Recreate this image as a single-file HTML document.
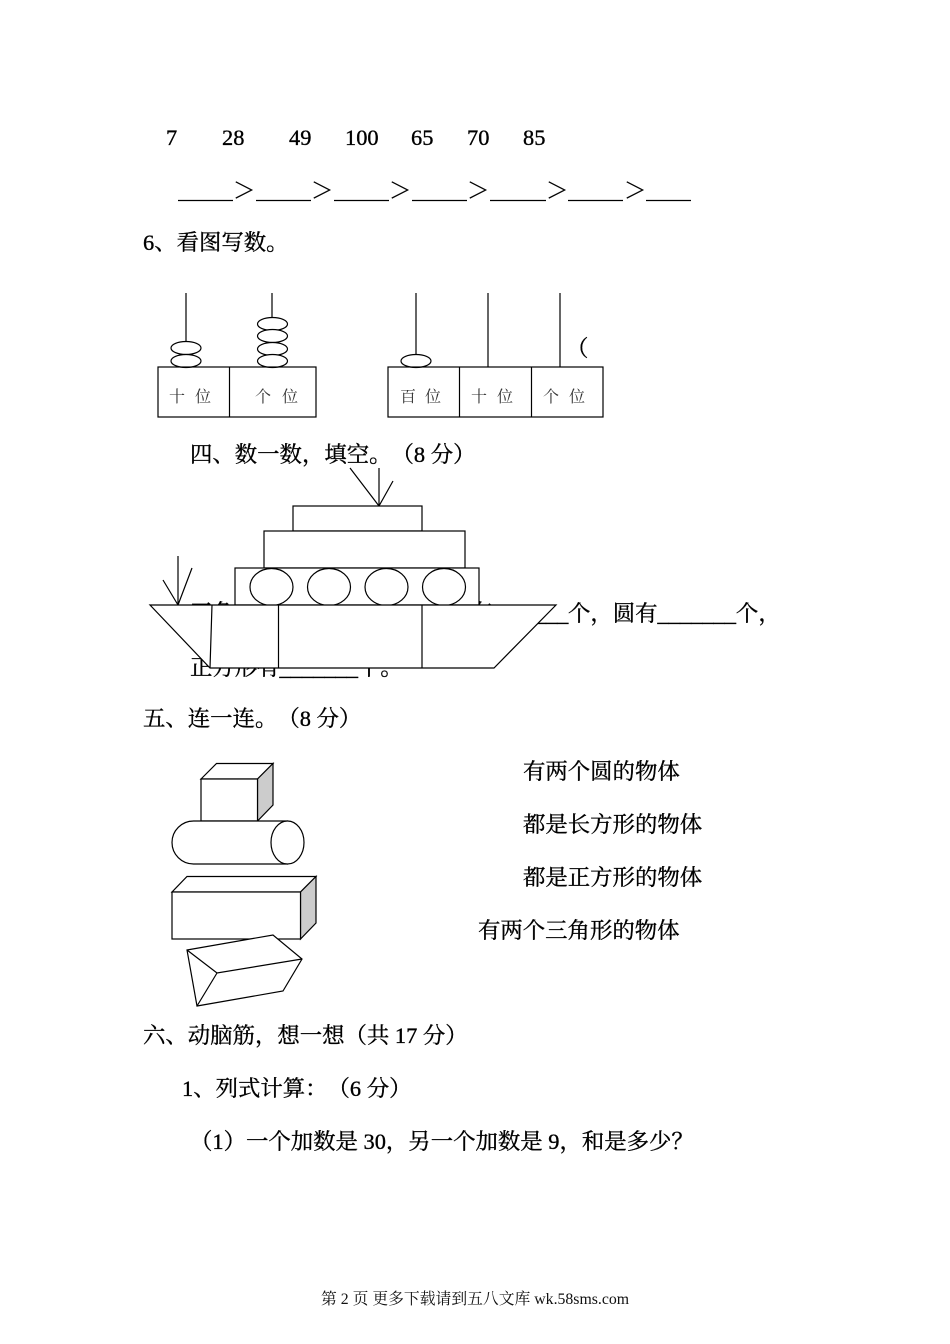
<!DOCTYPE html>
<html><head><meta charset="utf-8"><style>
html,body{margin:0;padding:0;background:#fff;width:950px;height:1344px;overflow:hidden}
svg{display:block}
text{font-family:"Liberation Serif","Noto Serif CJK SC",serif;font-size:22.4px;fill:#000;white-space:pre;text-spacing-trim:space-all;text-autospace:no-autospace;stroke:#000;stroke-width:.35px}
.s{font-size:16px;fill:#333;stroke:none}
.f{font-size:15.8px;stroke:none;fill:#111}
.t{stroke-width:.3px}
.sh{fill:#fff;stroke:#000;stroke-width:1.2}
.l{fill:none;stroke:#000;stroke-width:1.2}
.g{fill:#ccc;stroke:#000;stroke-width:1.2}
</style></head><body>
<svg width="950" height="1344" viewBox="0 0 950 1344" xmlns="http://www.w3.org/2000/svg">
<g>
<text x="166" y="145">7</text><text x="222" y="145">28</text><text x="289" y="145">49</text><text x="345" y="145">100</text><text x="411" y="145">65</text><text x="467" y="145">70</text><text x="523" y="145">85</text>
<text class="t" x="233" y="198">＞</text><text class="t" x="311" y="198">＞</text><text class="t" x="389" y="198">＞</text><text class="t" x="467" y="198">＞</text><text class="t" x="546" y="198">＞</text><text class="t" x="624" y="198">＞</text>
</g>
<path class="l" d="M178 200.500H233M256 200.500H311M334 200.500H389M412 200.500H467M490 200.500H546M568 200.500H623M646 200.500H691"/>
<text x="143" y="250">6、看图写数。</text>
<!-- abacus -->
<path class="l" d="M186 293V342M272 293V318M416 293V355M488 293V367M560 293V367"/>
<ellipse class="sh" cx="186" cy="348" rx="15" ry="6.5"/><ellipse class="sh" cx="186" cy="361" rx="15" ry="6.5"/>
<ellipse class="sh" cx="272.500" cy="324" rx="15" ry="6.500"/><ellipse class="sh" cx="272.500" cy="336" rx="15" ry="6.500"/><ellipse class="sh" cx="272.500" cy="349" rx="15" ry="6.500"/><ellipse class="sh" cx="272.500" cy="361" rx="15" ry="6.500"/>
<ellipse class="sh" cx="416" cy="361" rx="15" ry="6.500"/>
<rect class="l" x="158" y="367" width="158" height="50"/><path class="l" d="M229.500 367V417"/>
<rect class="l" x="388" y="367" width="215" height="50"/><path class="l" d="M459.500 367V417M531.500 367V417"/>
<text class="s" x="169" y="402">十</text><text class="s" x="195" y="402">位</text>
<text class="s" x="255" y="402">个</text><text class="s" x="282" y="402">位</text>
<text class="s" x="400" y="402">百</text><text class="s" x="425" y="402">位</text>
<text class="s" x="471" y="402">十</text><text class="s" x="497" y="402">位</text>
<text class="s" x="543" y="402">个</text><text class="s" x="569" y="402">位</text>
<text x="566" y="356">（</text>
<text x="190" y="462">四、数一数，填空。（8 分）</text>
<!-- text under ship -->
<text x="190" y="620">三角形有_______个，长方形有</text>
<text x="490" y="621">_______</text>
<text x="568" y="621">个，圆有_______个，</text>
<text x="190" y="675">正方形有_______个。</text>
<!-- ship -->
<path class="l" d="M379 468V506M350 468L379 506M393 481L379 506M178 556V605M163 580L178 605M192 568L178 605"/>
<rect class="sh" x="293" y="506" width="129" height="25"/>
<rect class="sh" x="264" y="531" width="201" height="37"/>
<rect class="sh" x="235" y="568" width="244" height="37"/>
<ellipse class="sh" cx="271.500" cy="587" rx="21.500" ry="18.500"/><ellipse class="sh" cx="329" cy="587" rx="21.500" ry="18.500"/><ellipse class="sh" cx="386.500" cy="587" rx="21.500" ry="18.500"/><ellipse class="sh" cx="444" cy="587" rx="21.500" ry="18.500"/>
<path class="sh" d="M150 605H556L494 668H210Z"/>
<path class="l" d="M212 605L210 668M278.500 605V668M422 605V668"/>
<text x="143" y="726">五、连一连。（8 分）</text>
<text x="523" y="779">有两个圆的物体</text>
<text x="523" y="832">都是长方形的物体</text>
<text x="523" y="885">都是正方形的物体</text>
<text x="478" y="938">有两个三角形的物体</text>
<!-- solids -->
<path class="sh" d="M201 779L216.500 763.500H273L257.500 779Z"/>
<path class="g" d="M257.500 779L273 763.500V805L257.500 821Z"/>
<rect class="sh" x="201" y="779" width="56.500" height="42"/>
<path class="sh" d="M193.500 821H287.500V864H193.500A21.500 21.500 0 0 1 193.500 821Z"/>
<ellipse class="sh" cx="287.500" cy="842.500" rx="16.500" ry="21.500"/>
<path class="sh" d="M172 892L187 876.500H316L300.500 892Z"/>
<path class="g" d="M300.500 892L316 876.500V923L300.500 939Z"/>
<rect class="sh" x="172" y="892" width="128.500" height="47"/>
<path class="sh" d="M187 950L273 935L302 959L283 991L197 1006Z"/>
<path class="l" d="M187 950L217 973L302 959M217 973L197 1006"/>
<text x="143" y="1043">六、动脑筋，想一想（共 17 分）</text>
<text x="182" y="1096">1、列式计算：（6 分）</text>
<text x="190" y="1149">（1）一个加数是 30，另一个加数是 9，和是多少？</text>
<text class="f" x="321" y="1304">第 2 页 更多下载请到五八文库 wk.58sms.com</text>
</svg>
</body></html>
